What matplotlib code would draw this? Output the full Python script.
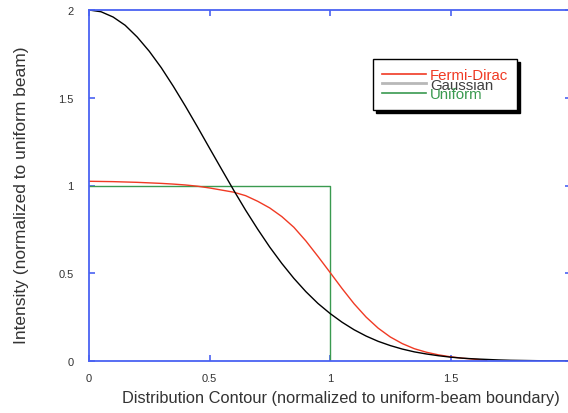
import matplotlib
matplotlib.use('Agg')
import matplotlib.pyplot as plt
from matplotlib.lines import Line2D

plt.rcParams['font.family'] = ['Liberation Sans', 'DejaVu Sans']

# Contorno de la distribucion (normalizado al borde del haz uniforme)
contorno = [0.00, 0.05, 0.10, 0.15, 0.20, 0.25, 0.30, 0.35, 0.40, 0.45,
            0.50, 0.55, 0.60, 0.65, 0.70, 0.75, 0.80, 0.85, 0.90, 0.95,
            1.00, 1.05, 1.10, 1.15, 1.20, 1.25, 1.30, 1.35, 1.40, 1.45,
            1.50, 1.55, 1.60, 1.65, 1.70, 1.75, 1.80, 1.85, 1.90, 1.95, 2.00]

# Intensidad gaussiana
gaussiana = [2.000, 1.990, 1.960, 1.913, 1.846, 1.765, 1.671, 1.565, 1.452, 1.334,
             1.213, 1.093, 0.974, 0.859, 0.751, 0.649, 0.556, 0.471, 0.395, 0.328,
             0.271, 0.221, 0.178, 0.142, 0.112, 0.088, 0.068, 0.052, 0.040, 0.030,
             0.022, 0.016, 0.012, 0.009, 0.006, 0.004, 0.003, 0.002, 0.001, 0.001, 0.001]

# Intensidad Fermi-Dirac (termina cerca de 1.65)
fermiDirac = [1.024, 1.023, 1.022, 1.020, 1.018, 1.015, 1.012, 1.008, 1.003, 0.996,
              0.986, 0.974, 0.962, 0.942, 0.910, 0.872, 0.823, 0.762, 0.684, 0.596,
              0.505, 0.413, 0.326, 0.250, 0.187, 0.137, 0.099, 0.070, 0.050, 0.035,
              0.024, 0.016, 0.010, 0.004]

# Haz uniforme
contornoUniforme = [0.0, 1.0, 1.0]
uniforme = [1.0, 1.0, 0.0]

azul = '#4a62f2'
rojo = '#f03a24'
verde = '#3a9a50'
gris = '#b8b8b8'
texto = '#333333'

fig = plt.figure(figsize=(5.68, 4.14), dpi=100)
ax = fig.add_axes([89 / 568, 1 - 362 / 414, 482 / 568, 351 / 414])

ax.plot(contornoUniforme, uniforme, color=verde, lw=1.0)
ax.plot(contorno[:len(fermiDirac)], fermiDirac, color=rojo, lw=1.0)
ax.plot(contorno, gaussiana, color='black', lw=1.0)

ax.set_xlim(0, 2)
ax.set_ylim(0, 2)
ax.set_xticks([0, 0.5, 1, 1.5])
ax.set_xticklabels(['0', '0.5', '1', '1.5'])
ax.set_yticks([0, 0.5, 1, 1.5, 2])
ax.set_yticklabels(['0', '0.5', '1', '1.5', '2'])

for lado in ax.spines.values():
    lado.set_color(azul)
    lado.set_linewidth(1.3)
ax.tick_params(direction='in', length=4, width=1.2, color=azul, labelcolor=texto,
               labelsize=8, top=True, right=True)
ax.tick_params(axis='x', pad=8.5)
ax.tick_params(axis='y', pad=11)

ax.set_xlabel('Distribution Contour (normalized to uniform-beam boundary)',
              fontsize=11.75, color=texto)
ax.set_ylabel('Intensity (normalized to uniform beam)', fontsize=12.5, color=texto)
ax.xaxis.set_label_coords(0.523, -0.1026)
ax.yaxis.set_label_coords(-0.14, 0.476)
ax.xaxis.label.set_va('center')
ax.yaxis.label.set_va('center')

# Leyenda con sombra y textos de colores
manijas = [Line2D([], [], color=rojo, lw=1.2),
           Line2D([], [], color=gris, lw=2.0),
           Line2D([], [], color=verde, lw=1.2)]
leyenda = fig.legend(manijas, ['Fermi-Dirac', 'Gaussian', 'Uniform'],
                     loc='upper left', bbox_to_anchor=(373 / 568, 1 - 60 / 414),
                     fontsize=10.8, labelspacing=-0.3, handlelength=2.9,
                     handletextpad=0.3, borderpad=0.6, borderaxespad=0,
                     fancybox=False, shadow={'color': 'black', 'alpha': 1.0})
leyenda.get_frame().set_edgecolor('black')
leyenda.get_frame().set_linewidth(1.0)
for t, color in zip(leyenda.get_texts(), [rojo, '#404040', verde]):
    t.set_color(color)

fig.savefig('out.png', dpi=100)
